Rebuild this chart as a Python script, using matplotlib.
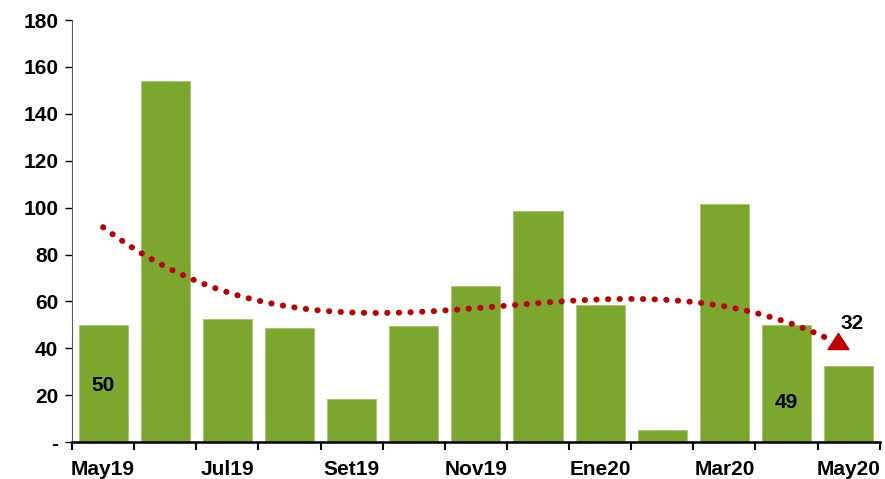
import matplotlib
matplotlib.use("Agg")
import matplotlib.pyplot as plt
from matplotlib.path import Path
import numpy as np

categories = ["May19", "Jun19", "Jul19", "Ago19", "Set19", "Oct19", "Nov19",
              "Dic19", "Ene20", "Feb20", "Mar20", "Abr20", "May20"]
values = [50, 154, 52.5, 48.5, 18.5, 49.5, 66.5, 98.5, 58.5, 5, 101.5, 50, 32.5]
tick_labels = ["May19", "", "Jul19", "", "Set19", "", "Nov19", "", "Ene20", "", "Mar20", "", "May20"]
annot_first = "50"
annot_prev = "49"
annot_last = "32"

plt.rcParams['font.family'] = ['Liberation Sans', 'DejaVu Sans']
fig = plt.figure(figsize=(8.85, 4.79), dpi=100)
ax = fig.add_axes([0.0814, 0.0772, 0.9126, 0.8808])

x = np.arange(len(categories))
ax.bar(x, values, width=0.79, color='#7CA72E', edgecolor='#A4C46A', linewidth=0.6, zorder=2)

coef = np.polyfit(x, values, 3)
xt = np.linspace(0, len(categories) - 1.37, 300)
yt = np.polyval(coef, xt)
ax.plot(xt, yt, color='#C00000', linewidth=4.3, linestyle=(0, (0.05, 1.9)),
        dash_capstyle='round', zorder=3)
tri_x = len(categories) - 1.17
tri_y = np.polyval(coef, tri_x) + 1.2
tri_marker = Path([(-1.3, -1), (1.3, -1), (0, 1), (-1.3, -1)],
                  [Path.MOVETO, Path.LINETO, Path.LINETO, Path.CLOSEPOLY])
ax.plot([tri_x], [tri_y], marker=tri_marker, markersize=15, color='#C00000',
        zorder=4, linestyle='none')

ax.text(0, 24, annot_first, ha='center', va='center', fontsize=15, fontweight='bold')
ax.text(11, 17, annot_prev, ha='center', va='center', fontsize=15, fontweight='bold')
ax.text(12.05, 50.5, annot_last, ha='center', va='center', fontsize=15, fontweight='bold')

ax.set_xlim(-0.5, len(categories) - 0.5)
ax.set_ylim(0, 180)
ax.set_yticks(np.arange(0, 181, 20))
ax.set_yticklabels(["-"] + [str(v) for v in range(20, 181, 20)], fontsize=15, fontweight='bold')
ax.set_xticks(x)
ax.set_xticklabels(tick_labels, fontsize=15, fontweight='bold')
ax.tick_params(axis='x', length=0, pad=13)
ax.set_xticks(np.arange(-0.5, len(categories), 1), minor=True)
ax.tick_params(axis='x', which='minor', length=6, width=1.5, direction='out')
ax.tick_params(axis='y', length=5, width=1, direction='out', pad=5)
for s in ['top', 'right']:
    ax.spines[s].set_visible(False)
ax.spines['left'].set_color('#595959')
ax.spines['bottom'].set_linewidth(1.8)
ax.spines['bottom'].set_color('black')

fig.savefig("out.png", dpi=100)
